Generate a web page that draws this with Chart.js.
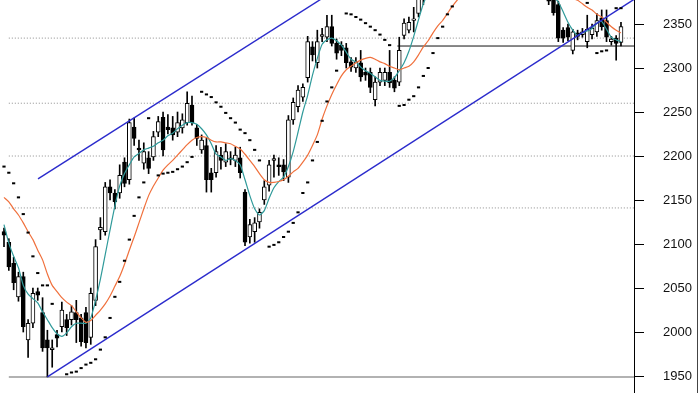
<!DOCTYPE html>
<html>
<head>
<meta charset="utf-8">
<script src="https://cdn.jsdelivr.net/npm/chart.js@4.4.1/dist/chart.umd.min.js"></script>
<style>
  html, body { margin: 0; padding: 0; background: #fff; }
  #wrap { position: relative; width: 700px; height: 393px; }
</style>
</head>
<body>
<div id="wrap"><canvas id="chart"></canvas></div>
<script>
/* Daily candles with 2 moving averages, parabolic SAR, trend channel and fib levels */

const opens = [
  2114, 2102, 2078, 2040, 2063, 1991, 2010, 2046, 2022, 1991,
  1980, 1997, 2006, 2014, 2014, 2022, 2016, 2022, 1994, 2036,
  2116, 2114, 2165, 2158, 2158, 2193, 2173, 2233, 2209, 2192,
  2198, 2199, 2227, 2244, 2233, 2232, 2227, 2232, 2238, 2258,
  2232, 2207, 2212, 2181, 2181, 2201, 2193, 2198, 2195, 2198,
  2159, 2108, 2114, 2125, 2150, 2167, 2195, 2190, 2190, 2176,
  2241, 2256, 2267, 2289, 2324, 2306, 2336, 2335, 2347, 2328,
  2326, 2323, 2307, 2300, 2306, 2295, 2295, 2264, 2284, 2286,
  2295, 2286, 2284, 2337, 2343, 2354, 2362, 2378, 2388, 2395,
  2408, 2402, 2420, 2428, 2425, 2445, 2438, 2446, 2434, 2426,
  2436, 2425, 2418, 2426, 2415, 2420, 2406, 2412, 2400, 2405,
  2396, 2398, 2390, 2394, 2380, 2372, 2343, 2346, 2320, 2340,
  2338, 2330, 2338, 2341, 2357, 2354, 2330, 2334, 2329,
];
const highs = [
  2118, 2106, 2085, 2068, 2068, 2014, 2050, 2050, 2039, 2002,
  1991, 2002, 2034, 2020, 2030, 2036, 2020, 2028, 2050, 2105,
  2130, 2170, 2173, 2162, 2190, 2198, 2242, 2243, 2218, 2215,
  2205, 2228, 2245, 2250, 2247, 2245, 2250, 2248, 2273, 2268,
  2236, 2224, 2220, 2186, 2212, 2210, 2214, 2205, 2210, 2210,
  2162, 2128, 2130, 2140, 2172, 2195, 2201, 2198, 2196, 2246,
  2266, 2280, 2282, 2336, 2330, 2343, 2345, 2360, 2360, 2333,
  2330, 2328, 2312, 2312, 2320, 2300, 2300, 2290, 2300, 2300,
  2320, 2290, 2335, 2356, 2358, 2369, 2388, 2392, 2400, 2412,
  2418, 2425, 2432, 2440, 2448, 2454, 2450, 2452, 2442, 2440,
  2444, 2432, 2430, 2434, 2428, 2426, 2418, 2420, 2410, 2412,
  2406, 2404, 2400, 2398, 2390, 2376, 2346, 2350, 2344, 2343,
  2345, 2360, 2350, 2362, 2366, 2366, 2336, 2337, 2352,
];
const lows = [
  2097, 2070, 2048, 2035, 2000, 1971, 2005, 2036, 1978, 1949,
  1960, 1983, 2000, 1996, 2008, 1988, 1984, 1982, 1986, 2030,
  2105, 2110, 2150, 2140, 2152, 2165, 2168, 2212, 2195, 2185,
  2180, 2195, 2222, 2200, 2225, 2218, 2222, 2226, 2235, 2235,
  2212, 2203, 2159, 2159, 2176, 2185, 2188, 2190, 2188, 2175,
  2098, 2101, 2102, 2118, 2145, 2160, 2176, 2178, 2172, 2170,
  2236, 2250, 2262, 2284, 2308, 2300, 2330, 2330, 2325, 2310,
  2314, 2300, 2296, 2295, 2285, 2286, 2272, 2257, 2280, 2280,
  2278, 2273, 2280, 2333, 2340, 2341, 2358, 2372, 2382, 2390,
  2398, 2400, 2412, 2418, 2420, 2432, 2428, 2430, 2420, 2418,
  2422, 2410, 2408, 2412, 2405, 2400, 2398, 2395, 2390, 2392,
  2386, 2384, 2380, 2372, 2360, 2330, 2329, 2331, 2316, 2332,
  2335, 2323, 2333, 2336, 2343, 2330, 2326, 2309, 2325,
];
const closes = [
  2110, 2074, 2056, 2063, 2006, 2010, 2044, 2042, 1982, 1982,
  1982, 1993, 2025, 2005, 2023, 2014, 1989, 1988, 2044, 2097,
  2119, 2165, 2158, 2148, 2178, 2169, 2238, 2220, 2207, 2205,
  2186, 2222, 2239, 2207, 2230, 2224, 2238, 2241, 2260, 2238,
  2220, 2218, 2173, 2173, 2205, 2195, 2205, 2196, 2201, 2181,
  2102, 2122, 2124, 2136, 2165, 2190, 2197, 2188, 2182, 2241,
  2261, 2275, 2278, 2330, 2315, 2330, 2338, 2347, 2328, 2317,
  2320, 2306, 2301, 2307, 2290, 2292, 2278, 2284, 2295, 2295,
  2283, 2277, 2320, 2351, 2352, 2356, 2380, 2388, 2395, 2408,
  2402, 2420, 2428, 2425, 2445, 2438, 2446, 2434, 2426, 2436,
  2425, 2418, 2426, 2415, 2420, 2406, 2412, 2400, 2405, 2396,
  2398, 2390, 2394, 2376, 2363, 2334, 2334, 2335, 2341, 2336,
  2341, 2344, 2345, 2354, 2347, 2335, 2333, 2328, 2347,
];

// fast (teal) and slow (orange) moving averages
const fastMA = [
  2122, 2101, 2086, 2073, 2053, 2043, 2038, 2033, 2023, 2014,
  2005, 1998, 1995, 1999, 2006, 2010, 2010, 2010, 2016, 2036,
  2060, 2088, 2116, 2143, 2166, 2180, 2190, 2199, 2203, 2207,
  2209, 2211, 2215, 2218, 2223, 2226, 2231, 2235, 2238, 2238,
  2236, 2231, 2224, 2214, 2202, 2199, 2195, 2197, 2195, 2190,
  2173, 2155, 2140, 2133, 2138, 2152, 2164, 2171, 2176, 2188,
  2205, 2227, 2250, 2269, 2292, 2311, 2327, 2332, 2334, 2331,
  2326, 2318, 2310, 2307, 2301, 2297, 2294, 2290, 2286, 2285,
  2285, 2289, 2297, 2306, 2319, 2336, 2355, 2373, 2385, 2393,
  2400, 2408, 2415, 2420, 2428, 2435, 2440, 2442, 2440, 2436,
  2432, 2428, 2424, 2420, 2416, 2414, 2411, 2407, 2403, 2400,
  2396, 2392, 2389, 2386, 2381, 2375, 2364, 2352, 2343, 2337,
  2340, 2342, 2345, 2351, 2353, 2344, 2335, 2332, 2330,
];
const slowMA = [
  2153, 2148, 2140, 2133, 2124, 2114, 2105, 2093, 2082, 2066,
  2053, 2046, 2039, 2034, 2030, 2023, 2016, 2011, 2013, 2019,
  2025, 2032, 2041, 2052, 2063, 2077, 2093, 2108, 2124, 2140,
  2155, 2166, 2175, 2184, 2190, 2195, 2201, 2207, 2213, 2218,
  2221, 2222, 2221, 2218, 2216, 2216, 2215, 2214, 2211, 2208,
  2202, 2195, 2188, 2180, 2173, 2170, 2170, 2171, 2173, 2177,
  2182, 2186, 2193, 2201, 2212, 2224, 2242, 2257, 2270, 2281,
  2291, 2298, 2302, 2306, 2309, 2311, 2312, 2310, 2307, 2305,
  2302, 2300, 2298, 2300, 2302, 2307, 2315, 2324, 2331, 2340,
  2348, 2354, 2362, 2370, 2377, 2382, 2386, 2390, 2394, 2398,
  2401, 2404, 2406, 2408, 2409, 2410, 2410, 2409, 2408, 2406,
  2403, 2400, 2397, 2394, 2391, 2388, 2385, 2382, 2379, 2377,
  2373, 2369, 2366, 2361, 2358, 2352, 2347, 2343, 2340,
];
// parabolic SAR dots (null = no dot seen / off chart)
const sar = [
  2188, 2181, 2169, 2153, 2134, 2113, 2086, 2067, 2053, 2053,
  2032, null, null, 1952, 1954, 1955, 1959, 1963, 1965, 1969,
  1980, 1994, 2016, 2040, 2057, 2081, 2105, 2132, 2153, 2170,
  2243, null, 2178, 2180, 2181, 2182, 2185, 2188, 2193, 2199,
  null, 2273, 2270, 2267, 2261, 2256, 2249, 2243, 2238, 2230,
  2226, 2218, 2207, 2195, null, 2097, 2099, 2102, 2108, 2114,
  2124, 2136, 2158, 2170, 2195, 2216, 2240, 2262, 2278, 2297,
  null, 2362, 2361, 2358, 2355, 2351, 2347, 2343, 2338, 2332,
  2326, null, 2257, 2258, 2264, 2268, 2278, 2291, 2300, 2317,
  2334, 2347, 2361, 2370, null, null, null, null, null, null,
  null, null, null, null, null, null, null, null, null, null,
  null, null, null, null, null, null, null, null, null, null,
  null, 2374, null, 2317, 2319, 2320, null, 2368, 2368,
];

const tickLabels = [1950, 2000, 2050, 2100, 2150, 2200, 2250, 2300, 2350];
const fibLevels = [2334, 2260, 2200, 2141];
const lowLevel = 1949;
const breakoutLevel = 2325;
const breakoutStart = 81.6;
const lowerChannel = [[9, 1949], [130.7, 2378]];
const upperChannel = [[7.05, 2174], [70, 2393]];

const X_MIN = -0.83, X_MAX = 130.7;
const Y_MIN = 1930.7, Y_MAX = 2377.3;

const idx = opens.map((_, i) => i);
const pts = (arr) => arr.map((v, i) => ({ x: i, y: v })).filter(p => p.y !== null);
const seg = (pairs) => pairs.map(([x, y]) => ({ x, y }));

const wicks = idx.map(i => ({ x: i, y: [lows[i], highs[i]] }));
const bodies = idx.map(i => ({ x: i, y: [Math.min(opens[i], closes[i]), Math.max(opens[i], closes[i])] }));
const bodyColors = idx.map(i => closes[i] >= opens[i] ? '#fff' : '#000');

const levelLine = (level, from, color, dash, width) => ({
  type: 'line',
  data: seg([[from, level], [X_MAX, level]]),
  borderColor: color,
  borderDash: dash,
  borderWidth: width,
  pointRadius: 0,
  order: 10,
});

// major/minor tick marks on the price axis + right frame line
const axisTicks = {
  id: 'axisTicks',
  afterDraw(chart) {
    const y = chart.scales.y;
    const ctx = chart.ctx;
    ctx.save();
    ctx.fillStyle = '#000';
    y.ticks.forEach(t => {
      const py = Math.round(y.getPixelForValue(t.value));
      const len = tickLabels.includes(t.value) ? 10 : 6;
      ctx.fillRect(y.left, py, len, 1);
    });
    ctx.fillStyle = '#444';
    ctx.fillRect(chart.width - 3, 0, 1, chart.height);
    ctx.restore();
  },
};

Chart.defaults.font.family = '"Liberation Sans", Arial, sans-serif';

new Chart(document.getElementById('chart'), {
  type: 'bar',
  data: {
    datasets: [
      ...fibLevels.map(l => levelLine(l, 1, '#8c8c8c', [1, 2], 1)),
      levelLine(lowLevel, 1, '#999', [], 1.5),
      levelLine(breakoutLevel, breakoutStart, '#111', [], 1),
      {
        type: 'bar', data: wicks, backgroundColor: '#000', borderWidth: 0,
        barThickness: 1, grouped: false, order: 5,
      },
      {
        type: 'bar', data: bodies, backgroundColor: bodyColors, borderColor: '#000',
        borderWidth: 1, borderSkipped: false, barThickness: 4, grouped: false, order: 4,
      },
      {
        type: 'line', data: pts(slowMA), borderColor: '#f0703c', borderWidth: 1.2,
        pointRadius: 0, tension: 0.2, order: 2,
      },
      {
        type: 'line', data: pts(fastMA), borderColor: '#2f9a9a', borderWidth: 1.2,
        pointRadius: 0, tension: 0.2, order: 2,
      },
      {
        type: 'line', data: seg(lowerChannel), borderColor: '#2b2bcc', borderWidth: 1.4,
        pointRadius: 0, order: 1,
      },
      {
        type: 'line', data: seg(upperChannel), borderColor: '#2b2bcc', borderWidth: 1.4,
        pointRadius: 0, order: 1,
      },
      {
        type: 'line', data: pts(sar), showLine: false, pointStyle: 'line',
        pointRadius: 1.6, pointBorderWidth: 2, pointBorderColor: '#000', order: 0,
      },
    ],
  },
  options: {
    responsive: true,
    maintainAspectRatio: false,
    animation: false,
    layout: { padding: 0, autoPadding: false },
    plugins: { legend: { display: false }, tooltip: { enabled: false } },
    scales: {
      x: { type: 'linear', min: X_MIN, max: X_MAX, display: false, offset: false },
      y: {
        position: 'right',
        min: Y_MIN,
        max: Y_MAX,
        afterFit: (scale) => {
          scale.width = 66;
          scale.paddingTop = 0;
          scale.paddingBottom = 0;
          scale.paddingLeft = 0;
          scale.paddingRight = 0;
        },
        grid: { display: true, drawOnChartArea: false, drawTicks: true, tickLength: 29, tickColor: 'rgba(0,0,0,0)' },
        border: { display: true, color: '#000', width: 1 },
        ticks: {
          stepSize: 10,
          includeBounds: false,
          autoSkip: false,
          padding: 0,
          color: '#111',
          font: { size: 13 },
          callback: (v) => tickLabels.includes(v) ? String(v) : null,
        },
      },
    },
  },
  plugins: [axisTicks],
});
</script>
</body>
</html>
